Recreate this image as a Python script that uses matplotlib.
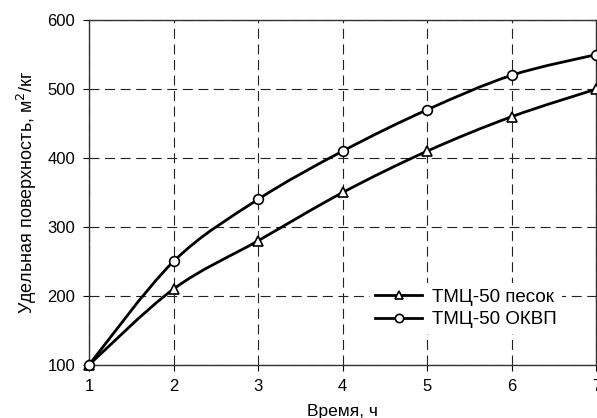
import numpy as np
import matplotlib
matplotlib.use("Agg")
import matplotlib.pyplot as plt
from matplotlib.path import Path
from matplotlib.patches import PathPatch

plt.rcParams["font.family"] = ["Liberation Sans", "DejaVu Sans"]

hours = [1, 2, 3, 4, 5, 6, 7]
sand = [100, 210, 280, 350, 410, 460, 500]
okvp = [100, 250, 340, 410, 470, 520, 550]
series_labels = ["ТМЦ-50 песок", "ТМЦ-50 ОКВП"]
series_markers = ["^", "o"]


def smooth_path(xs, ys, t=0.5 / 3):
    # Catmull-Rom style Bezier through the points (like a smoothed line)
    xs = np.asarray(xs, float)
    ys = np.asarray(ys, float)
    verts = [(xs[0], ys[0])]
    codes = [Path.MOVETO]
    n = len(xs)
    for i in range(n - 1):
        p0 = (xs[max(i - 1, 0)], ys[max(i - 1, 0)])
        p1 = (xs[i], ys[i])
        p2 = (xs[i + 1], ys[i + 1])
        p3 = (xs[min(i + 2, n - 1)], ys[min(i + 2, n - 1)])
        c1 = (p1[0] + (p2[0] - p0[0]) * t, p1[1] + (p2[1] - p0[1]) * t)
        c2 = (p2[0] - (p3[0] - p1[0]) * t, p2[1] - (p3[1] - p1[1]) * t)
        verts += [c1, c2, p2]
        codes += [Path.CURVE4] * 3
    return Path(verts, codes)


fig = plt.figure(figsize=(5.97, 4.18), dpi=100)
ax = fig.add_axes([0.149, 0.127, 0.850, 0.825])

ax.set_xlim(1, 7)
ax.set_ylim(100, 600)
ax.set_xticks(hours)
ax.set_yticks([100, 200, 300, 400, 500, 600])
ax.grid(True, color="#222222", linestyle=(0, (9, 5)), linewidth=0.8)
ax.set_axisbelow(True)

for ys, lab, mk in zip([sand, okvp], series_labels, series_markers):
    ax.add_patch(PathPatch(smooth_path(hours, ys), facecolor="none",
                           edgecolor="black", lw=2, zorder=3, clip_on=False))
    ax.plot(hours, ys, linestyle="none", marker=mk, markersize=7,
            markerfacecolor="white", markeredgecolor="black",
            markeredgewidth=1.2, zorder=4, clip_on=False)
    ax.plot([], [], color="black", lw=2, marker=mk, markersize=6,
            markerfacecolor="white", markeredgecolor="black",
            markeredgewidth=1.2, label=lab)

for s in ["left", "bottom", "top", "right"]:
    ax.spines[s].set_color("#333333")
    ax.spines[s].set_linewidth(1)

ax.tick_params(direction="out", length=4, labelsize=12, colors="black", pad=6)
ax.set_xlabel("Время, ч", fontsize=12.5, labelpad=7)
ax.set_ylabel("Удельная поверхность, м$^2$/кг", fontsize=13, labelpad=6)

leg = ax.legend(loc="upper left", bbox_to_anchor=(0.535, 0.265), frameon=True,
                fontsize=13.5, handlelength=2.5, handletextpad=0.5,
                labelspacing=0.3, borderpad=0.3, fancybox=False,
                framealpha=1)
leg.get_frame().set_edgecolor("none")

fig.savefig("out.png", dpi=100)
